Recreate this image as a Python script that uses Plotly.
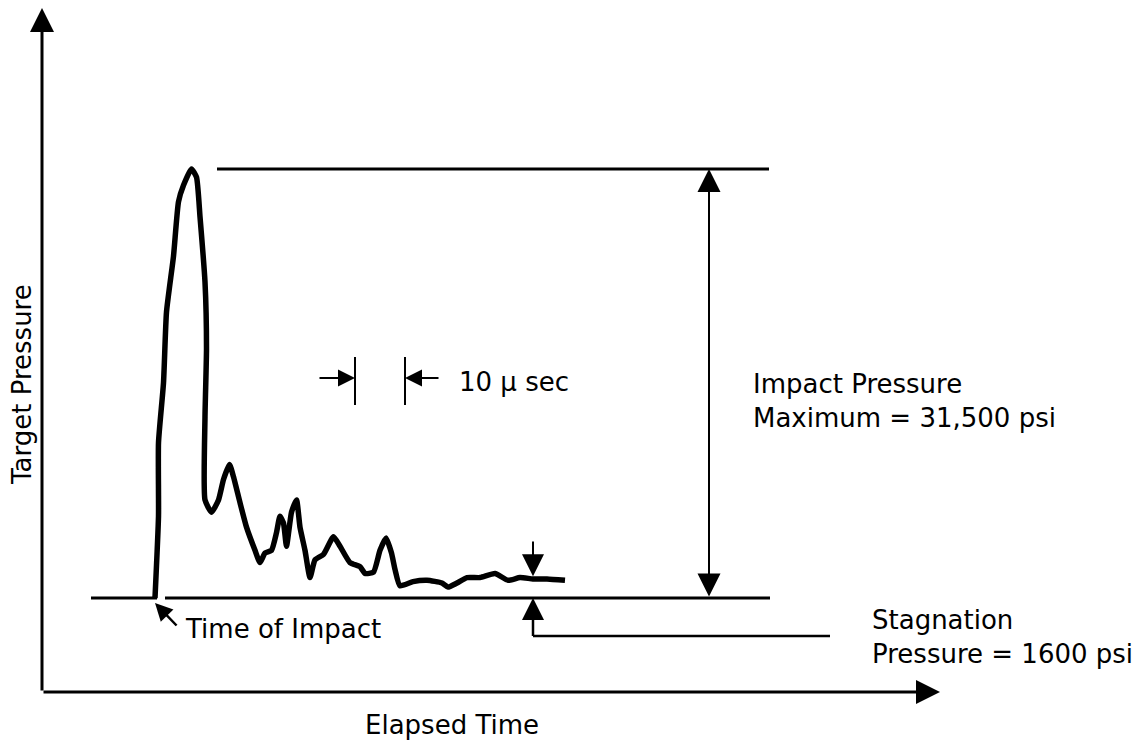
import plotly.graph_objects as go

# ---------------- data ----------------
# elapsed time after impact, microseconds
time_us = [0, 0.7, 0.7, 1.7, 2.3, 3.7, 4.7, 5.7, 7.3, 8.3, 9, 10, 10.3, 10, 10,
           11.3, 12.7, 13.7, 14.9, 15.7, 17, 18.3, 20, 21, 22, 23.3, 24.3, 25,
           25.7, 26.3, 27.3, 28.3, 29, 30, 31, 32, 33.7, 35.7, 37, 39, 41, 42,
           43.7, 45, 46.2, 47.3, 48, 49, 51.6, 54.4, 57.4, 58.6, 60.4, 62.4,
           65, 68, 70.6, 73, 75.6, 78.4, 82]
# target pressure above the pre-impact level, psi
pressure_psi = [0, 6000, 11400, 15800, 21000, 25100, 29100, 30300, 31500, 30900,
                28000, 23200, 18300, 13300, 7200, 6300, 7200, 8700, 9800, 8900,
                7000, 5200, 3500, 2600, 3300, 3500, 4800, 6000, 5500, 3800, 6300,
                7200, 5200, 3500, 1500, 2800, 3200, 4500, 3800, 2600, 2300, 1800,
                1900, 3500, 4400, 3300, 2100, 900, 1200, 1300, 1100, 800, 1100,
                1500, 1500, 1800, 1300, 1500, 1400, 1400, 1300]

peak_psi = 31500
stagnation_psi = 1600
scale_marks_us = [40, 50]          # the "10 µ sec" scale bar

axis_title_x = "Elapsed Time"
axis_title_y = "Target Pressure"
label_impact = "Impact Pressure<br>Maximum = 31,500 psi"
label_stag = "Stagnation<br>Pressure = 1600 psi"
label_time = "Time of Impact"
label_scale = "10 µ sec"

FONT = "DejaVu Sans"
INK = "black"

fig = go.Figure()

fig.add_trace(go.Scatter(
    x=time_us, y=pressure_psi, mode="lines",
    line=dict(color=INK, width=5.5, shape="spline", smoothing=0.5),
    hoverinfo="skip", showlegend=False))

shapes = []
def hline(y, x0, x1, w=3):
    shapes.append(dict(type="line", xref="x", yref="y", x0=x0, x1=x1, y0=y, y1=y,
                       line=dict(color=INK, width=w)))
def vline(x, y0, y1, w=2):
    shapes.append(dict(type="line", xref="x", yref="y", x0=x, x1=x, y0=y0, y1=y1,
                       line=dict(color=INK, width=w)))

# reference level lines
hline(peak_psi, 12.4, 122.8)
hline(0, -12.8, 0.4)
hline(0, 2.0, 123.0)
# stagnation bracket
hline(-2790, 75.6, 135.0, w=2.5)
vline(75.6, -2790, -1200, w=2.5)
# scale bar ticks
for t in scale_marks_us:
    vline(t, 14172, 17697, w=2)

annotations = []
def arrow(x, y, ax, ay, w=2, size=1.5, head=2, side="end"):
    annotations.append(dict(x=x, y=y, ax=ax, ay=ay, xref="x", yref="y",
                            axref="x", ayref="y", text="", showarrow=True,
                            arrowhead=head, arrowsize=size, arrowwidth=w,
                            arrowcolor=INK, arrowside=side, standoff=0,
                            startstandoff=0))

# chart axes drawn as arrows
arrow(-22.6, 43324, -22.6, -6902, w=3, size=1.6)
arrow(157, -6902, -22.6, -6902, w=3, size=1.6)
# impact pressure double arrow
arrow(110.8, peak_psi, 110.8, 0, w=2, size=2.3, side="end+start")
# stagnation arrows
arrow(75.6, stagnation_psi, 75.6, 4259, w=2, size=2.2)
arrow(75.6, 0, 75.6, -1200, w=2, size=2.2)
# scale bar arrows
arrow(scale_marks_us[0], 16155, 32.6, 16155, w=2, size=1.7)
arrow(scale_marks_us[1], 16155, 57.0, 16155, w=2, size=1.7)
# time of impact arrow
arrow(0, -367, 4.6, -2129, w=2.5, size=1.4)

def label(text, x, y, xanchor="left", size=26, angle=0):
    annotations.append(dict(x=x, y=y, xref="x", yref="y", text=text,
                            showarrow=False, xanchor=xanchor, yanchor="middle",
                            align="left", textangle=angle,
                            font=dict(family=FONT, size=size, color=INK)))

label(label_impact, 119.2, 14466)
label(label_stag, 143.0, -2864)
label(label_scale, 60.4, 15861)
label(label_time, 5.6, -2276)
label(axis_title_x, 59.4, -9326, xanchor="center")
label(axis_title_y, -26.6, 15641, xanchor="center", angle=-90)

fig.update_layout(
    width=1147, height=745, autosize=False,
    margin=dict(l=0, r=0, t=0, b=0),
    paper_bgcolor="white", plot_bgcolor="white",
    xaxis=dict(range=[-31, 198.4], visible=False, fixedrange=True),
    yaxis=dict(range=[-10794, 43911], visible=False, fixedrange=True),
    shapes=shapes, annotations=annotations, showlegend=False,
)

fig.write_html("out.html", config={"displayModeBar": False},
               post_script="document.body.style.margin='0';")
